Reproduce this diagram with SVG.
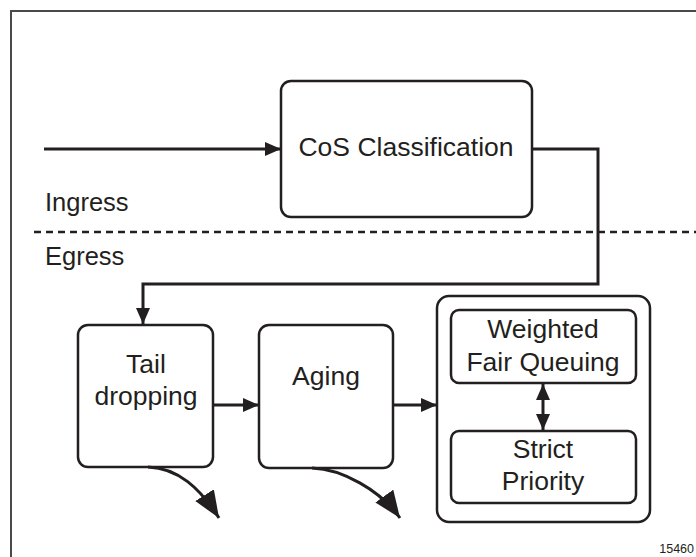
<svg xmlns="http://www.w3.org/2000/svg" width="696" height="557" viewBox="0 0 696 557">
  <defs>
    <marker id="arrow" markerUnits="userSpaceOnUse" markerWidth="18" markerHeight="16" refX="16" refY="7" orient="auto">
      <path d="M0,0 L16,7 L0,14 Z" fill="#231f20"/>
    </marker>
    <marker id="arrowStart" markerUnits="userSpaceOnUse" markerWidth="18" markerHeight="16" refX="0" refY="7" orient="auto">
      <path d="M16,0 L0,7 L16,14 Z" fill="#231f20"/>
    </marker>
    <marker id="bigArrow" markerUnits="userSpaceOnUse" markerWidth="30" markerHeight="24" refX="27" refY="11" orient="auto">
      <path d="M0,0 L27,11 L0,22 Z" fill="#231f20"/>
    </marker>
  </defs>
  <style>
    .box { fill: #ffffff; stroke: #231f20; stroke-width: 2.5; }
    .lbl { font-family: "Liberation Sans", Arial, sans-serif; font-size: 26.5px; fill: #231f20; text-anchor: middle; }
    .side { font-family: "Liberation Sans", Arial, sans-serif; font-size: 25.5px; fill: #231f20; }
    .wire { fill: none; stroke: #231f20; stroke-width: 3; }
  </style>

  <rect width="696" height="557" fill="#ffffff"/>
  <!-- outer frame (right and bottom edges run past the canvas) -->
  <path d="M11,560 L11,11 L700,11" fill="none" stroke="#4a4a4a" stroke-width="2"/>

  <!-- ingress / egress divider -->
  <line x1="34" y1="232" x2="696" y2="232" stroke="#231f20" stroke-width="2.5" stroke-dasharray="7,5"/>
  <text class="side" x="45" y="211">Ingress</text>
  <text class="side" x="45" y="265">Egress</text>

  <g id="cos">
    <rect class="box" x="281" y="81" width="251" height="136" rx="10"/>
    <text class="lbl" x="406" y="156">CoS Classification</text>
  </g>

  <g id="tail">
    <rect class="box" x="78" y="325" width="135" height="142" rx="10"/>
    <text class="lbl" x="146" y="373">Tail</text>
    <text class="lbl" x="146" y="405">dropping</text>
  </g>

  <g id="aging">
    <rect class="box" x="259" y="325" width="134" height="143" rx="10"/>
    <text class="lbl" x="326" y="385">Aging</text>
  </g>

  <g id="scheduler">
    <rect class="box" x="437" y="296" width="213" height="226" rx="12"/>
  </g>

  <g id="wfq">
    <rect class="box" x="451" y="310" width="185" height="73" rx="8"/>
    <text class="lbl" x="543" y="338">Weighted</text>
    <text class="lbl" x="543" y="371">Fair Queuing</text>
  </g>

  <g id="strict">
    <rect class="box" x="451" y="431" width="185" height="72" rx="8"/>
    <text class="lbl" x="543" y="458">Strict</text>
    <text class="lbl" x="543" y="490">Priority</text>
  </g>

  <g id="connectors">
    <line class="wire" x1="44" y1="149" x2="281" y2="149" marker-end="url(#arrow)"/>
    <path class="wire" d="M532,149 L598,149 L598,284 L143,284 L143,324" marker-end="url(#arrow)"/>
    <line class="wire" x1="213" y1="405" x2="259" y2="405" marker-end="url(#arrow)"/>
    <line class="wire" x1="393" y1="405" x2="437" y2="405" marker-end="url(#arrow)"/>
    <line class="wire" x1="543" y1="384" x2="543" y2="430" marker-start="url(#arrowStart)" marker-end="url(#arrow)"/>
    <path class="wire" d="M148,467 C178,468 200,488 219,518" marker-end="url(#bigArrow)"/>
    <path class="wire" d="M312,468 C342,469 380,490 400,518" marker-end="url(#bigArrow)"/>
  </g>

  <text x="694" y="553" text-anchor="end" font-family="Liberation Sans, Arial, sans-serif" font-size="12.5" fill="#231f20">15460</text>
</svg>
